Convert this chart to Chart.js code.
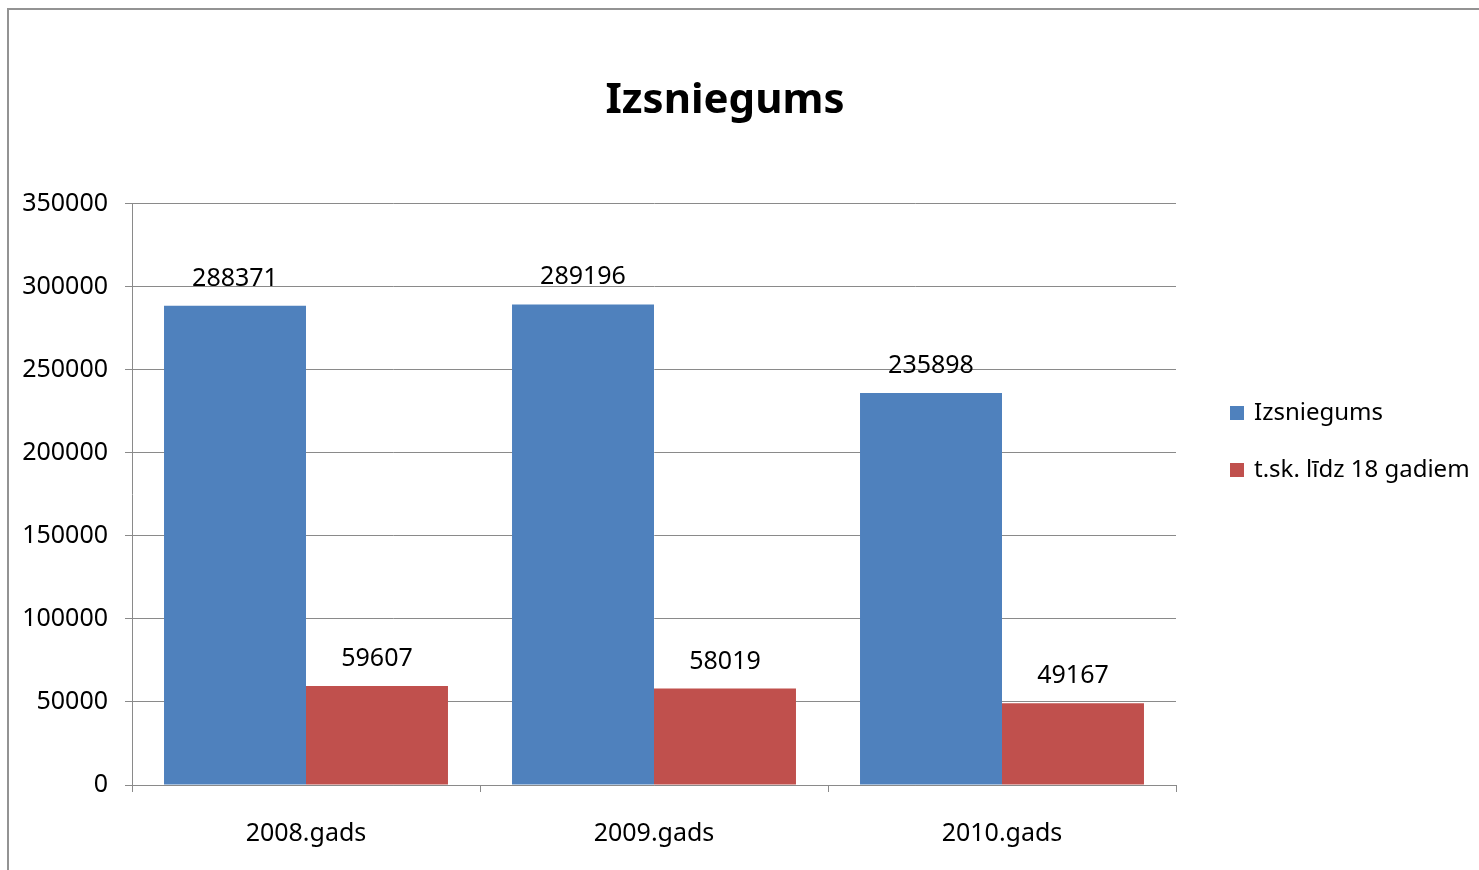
<!DOCTYPE html>
<html lang="lv">
<head>
<meta charset="UTF-8">
<title>Izsniegums</title>
<style>
    body { margin: 0; background: #fff; }
    .wrap { position: relative; width: 1479px; height: 870px; overflow: hidden; }
    .frame {
        position: absolute; left: 7px; top: 8px; right: -10px; bottom: -10px;
        border-top: 2px solid #939393; border-left: 2px solid #939393;
    }
    canvas { position: absolute; left: 0; top: 0; }
</style>
</head>
<body>
<div class="wrap">
    <div class="frame"></div>
    <canvas id="chart" width="1479" height="870"></canvas>
</div>
<script src="https://cdn.jsdelivr.net/npm/chart.js"></script>
<script>
const categories = ['2008.gads', '2009.gads', '2010.gads'];
const seriesNames = ['Izsniegums', 't.sk. līdz 18 gadiem'];
const izsniegums = [288371, 289196, 235898];
const lidz18 = [59607, 58019, 49167];
const yTicks = [0, 50000, 100000, 150000, 200000, 250000, 300000, 350000];

const FONT = "'Noto Sans', 'Open Sans', sans-serif";
const GRID = '#8a8a8a';

// numbers above each bar
const valueLabels = {
    id: 'valueLabels',
    afterDatasetsDraw(chart) {
        const ctx = chart.ctx;
        ctx.save();
        ctx.font = '25px ' + FONT;
        ctx.fillStyle = '#000';
        ctx.textAlign = 'center';
        ctx.textBaseline = 'alphabetic';
        chart.data.datasets.forEach((ds, i) => {
            chart.getDatasetMeta(i).data.forEach((bar, j) => {
                ctx.fillText(String(ds.data[j]), bar.x, bar.y - 20);
            });
        });
        ctx.restore();
    }
};

// legend on the right, drawn by hand so the plot keeps its width
const sideLegend = {
    id: 'sideLegend',
    afterDraw(chart) {
        const ctx = chart.ctx;
        ctx.save();
        ctx.font = '24px ' + FONT;
        ctx.textAlign = 'left';
        ctx.textBaseline = 'middle';
        chart.data.datasets.forEach((ds, i) => {
            const y = 413 + i * 57;
            ctx.fillStyle = ds.backgroundColor;
            ctx.fillRect(1230, y - 7, 14, 14);
            ctx.fillStyle = '#000';
            ctx.fillText(ds.label, 1254, y);
        });
        ctx.restore();
    }
};

new Chart(document.getElementById('chart'), {
    type: 'bar',
    data: {
        labels: categories,
        datasets: [
            { label: seriesNames[0], data: izsniegums, backgroundColor: '#4F81BD' },
            { label: seriesNames[1], data: lidz18, backgroundColor: '#C0504D' }
        ]
    },
    options: {
        responsive: false,
        animation: false,
        layout: { padding: { left: 0, right: 29, top: 0, bottom: 0 } },
        datasets: { bar: { barPercentage: 1, categoryPercentage: 0.816 } },
        plugins: {
            legend: { display: false },
            tooltip: { enabled: false },
            title: {
                display: true,
                text: 'Izsniegums',
                color: '#000',
                font: { family: FONT, size: 42, weight: 'bold' },
                padding: { top: 76, bottom: 77 }
            }
        },
        scales: {
            x: {
                grid: { offset: true, drawOnChartArea: false, drawTicks: true, tickLength: 7, color: GRID },
                border: { color: GRID },
                ticks: { color: '#000', padding: 27, font: { family: FONT, size: 25 } },
                afterFit(scale) { scale.height = 85; }
            },
            y: {
                min: 0,
                max: 350000,
                afterBuildTicks(scale) { scale.ticks = yTicks.map(v => ({ value: v })); },
                grid: { color: GRID, tickLength: 7 },
                border: { color: GRID },
                ticks: {
                    color: '#000', padding: 17, font: { family: FONT, size: 25 },
                    callback: v => String(v)
                },
                afterFit(scale) { scale.width = 132; }
            },
            // empty space on the right where the legend sits
            side: {
                type: 'linear',
                position: 'right',
                grid: { display: false, drawTicks: false },
                border: { display: false },
                ticks: { display: false },
                afterFit(scale) { scale.width = 274; }
            }
        }
    },
    plugins: [valueLabels, sideLegend]
});
</script>
</body>
</html>
